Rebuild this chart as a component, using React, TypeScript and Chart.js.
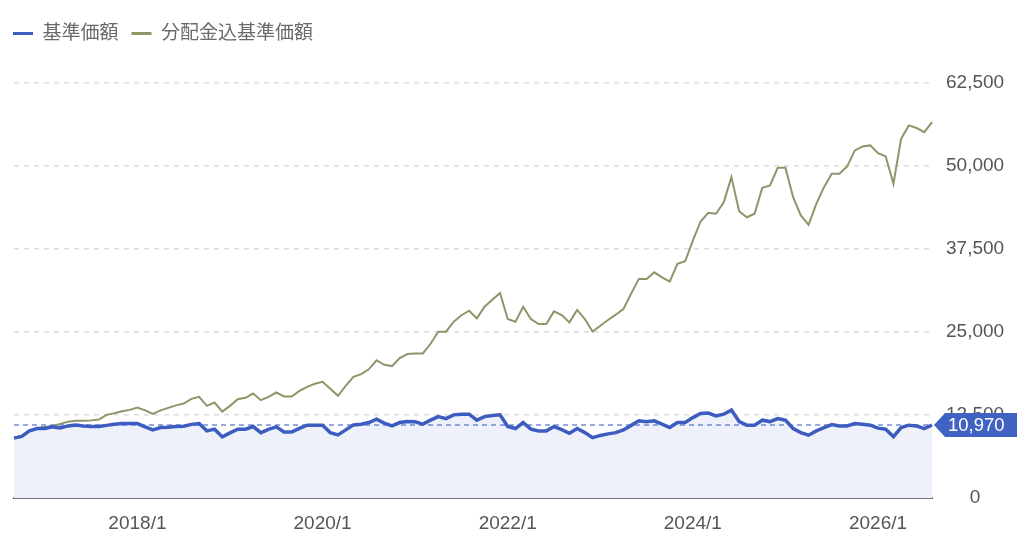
import { useEffect, useRef } from 'react';
import { Chart, registerables } from 'chart.js';

Chart.register(...registerables);

// monthly categories 2016/9 .. 2026/8
const START_YEAR = 2016;
const START_MONTH = 9;
const MONTH_COUNT = 120;
const categories: string[] = [];
for (let i = 0; i < MONTH_COUNT; i++) {
  const m = START_MONTH - 1 + i;
  categories.push(`${START_YEAR + Math.floor(m / 12)}/${(m % 12) + 1}`);
}

const xTickLabels = ['2018/1', '2020/1', '2022/1', '2024/1', '2026/1'];
const yTicks = [0, 12500, 25000, 37500, 50000, 62500];
const yMax = 66000;

// 基準価額
const navValues = [
  9000, 9260, 10090, 10440, 10440, 10690, 10540, 10840, 10990, 10840,
  10740, 10740, 10920, 11100, 11190, 11190, 11190, 10690, 10240, 10590,
  10650, 10740, 10800, 11070, 11190, 10090, 10350, 9190, 9790, 10350,
  10350, 10740, 9830, 10320, 10690, 9940, 9940, 10470, 10950, 10950,
  10950, 9830, 9490, 10240, 10990, 11100, 11340, 11850, 11250, 10840,
  11340, 11490, 11450, 11100, 11700, 12240, 11940, 12500, 12600, 12600,
  11700, 12240, 12390, 12500, 10740, 10440, 11340, 10350, 10090, 10090,
  10740, 10290, 9740, 10440, 9830, 9080, 9410, 9640, 9830, 10240,
  10920, 11600, 11450, 11600, 11100, 10590, 11340, 11340, 12090, 12700,
  12760, 12350, 12600, 13210, 11490, 10950, 10950, 11700, 11490, 11940,
  11700, 10440, 9830, 9440, 10090, 10590, 11040, 10840, 10840, 11190,
  11100, 10950, 10500, 10350, 9230, 10590, 10950, 10840, 10440, 10970,
];

// 分配金込基準価額
const totalReturnValues = [
  9040, 9340, 10090, 10540, 10690, 10840, 11140, 11450, 11600, 11600,
  11670, 11790, 12500, 12730, 13030, 13250, 13600, 13180, 12650, 13180,
  13550, 13930, 14200, 14910, 15210, 13850, 14350, 13000, 13850, 14860,
  15060, 15710, 14710, 15210, 15860, 15260, 15260, 16110, 16720, 17170,
  17470, 16420, 15360, 16870, 18220, 18630, 19350, 20710, 20030, 19830,
  21040, 21640, 21730, 21730, 23190, 25000, 25000, 26510, 27480, 28160,
  27000, 28760, 29820, 30830, 26910, 26510, 28760, 26910, 26160, 26160,
  28060, 27510, 26400, 28270, 26910, 25040, 25900, 26760, 27560, 28420,
  30720, 32940, 32940, 33930, 33180, 32530, 35200, 35590, 38700, 41570,
  42880, 42730, 44470, 48240, 43120, 42210, 42730, 46640, 46990, 49650,
  49650, 45230, 42470, 41070, 44230, 46730, 48750, 48750, 49850, 52260,
  52860, 53010, 51850, 51350, 47240, 54020, 56020, 55620, 55010, 56520,
];

const latestNav = 10970;

const FONT = '"Liberation Sans", Arial, "Noto Sans CJK JP", sans-serif';

const legendHeight = {
  id: 'legendHeight',
  beforeInit(chart: any) {
    const legend = chart.legend;
    if (!legend) return;
    const fit = legend.fit;
    legend.fit = function () {
      fit.call(this);
      this.height = 48;
    };
  },
};

const latestTag = {
  id: 'latestTag',
  beforeDatasetsDraw(chart: any) {
    const { ctx, chartArea, scales } = chart;
    const y = scales.y.getPixelForValue(latestNav);
    ctx.save();
    ctx.strokeStyle = 'rgba(70, 100, 200, 0.75)';
    ctx.lineWidth = 1.5;
    ctx.setLineDash([5, 4]);
    ctx.beginPath();
    ctx.moveTo(chartArea.left, y);
    ctx.lineTo(chartArea.right, y);
    ctx.stroke();
    ctx.restore();
  },
  afterDraw(chart: any) {
    const { ctx, chartArea, scales } = chart;
    const y = scales.y.getPixelForValue(latestNav);
    const x0 = chartArea.right + 2;
    const h = 24;
    ctx.save();
    ctx.fillStyle = '#4062c2';
    ctx.beginPath();
    ctx.moveTo(x0, y);
    ctx.lineTo(x0 + 11, y - h / 2);
    ctx.lineTo(x0 + 83, y - h / 2);
    ctx.lineTo(x0 + 83, y + h / 2);
    ctx.lineTo(x0 + 11, y + h / 2);
    ctx.closePath();
    ctx.fill();
    ctx.fillStyle = '#ffffff';
    ctx.font = `18.5px ${FONT}`;
    ctx.textBaseline = 'middle';
    ctx.textAlign = 'left';
    ctx.fillText(latestNav.toLocaleString('en-US'), x0 + 14, y + 1);
    ctx.restore();
  },
};

export default function App() {
  const canvasRef = useRef<HTMLCanvasElement>(null);
  const chartRef = useRef<Chart | null>(null);

  useEffect(() => {
    document.body.style.margin = '0';
    if (!canvasRef.current) return;
    if (chartRef.current) chartRef.current.destroy();

    chartRef.current = new Chart(canvasRef.current, {
      type: 'line',
      data: {
        labels: categories,
        datasets: [
          {
            label: '基準価額',
            data: navValues,
            borderColor: '#3c5dbf',
            backgroundColor: '#eef1fa',
            borderWidth: 3.5,
            fill: 'origin',
            pointRadius: 0,
            tension: 0,
            yAxisID: 'y',
            order: 0,
          },
          {
            label: '分配金込基準価額',
            data: totalReturnValues,
            borderColor: '#8c9669',
            backgroundColor: '#8c9669',
            borderWidth: 2,
            fill: false,
            pointRadius: 0,
            tension: 0,
            yAxisID: 'y',
            order: 1,
          },
        ],
      },
      options: {
        responsive: true,
        maintainAspectRatio: false,
        animation: false,
        events: [],
        layout: { padding: { top: 11, left: 0, right: 0, bottom: 0 } },
        plugins: {
          filler: { drawTime: 'beforeDatasetsDraw' },
          tooltip: { enabled: false },
          legend: {
            position: 'top',
            align: 'start',
            labels: {
              boxWidth: 20,
              boxHeight: 3,
              padding: 13,
              color: '#6a6a6a',
              font: { family: FONT, size: 19 },
              generateLabels: (chart: any) =>
                Chart.defaults.plugins.legend.labels
                  .generateLabels(chart)
                  .map((l: any) => ({ ...l, fillStyle: l.strokeStyle, lineWidth: 0 })),
            },
          },
        },
        scales: {
          x: {
            type: 'category',
            offset: false,
            grid: { display: false },
            border: { display: true, color: '#777', width: 2 },
            ticks: {
              autoSkip: false,
              maxRotation: 0,
              padding: 6,
              color: '#555',
              font: { family: FONT, size: 19 },
              callback: (_v: any, i: number) =>
                xTickLabels.includes(categories[i]) ? categories[i] : '',
            },
            afterFit: (s: any) => {
              s.height = 43;
            },
          },
          yl: {
            type: 'linear',
            position: 'left',
            display: true,
            grid: { display: false },
            border: { display: false },
            ticks: { display: false },
            afterFit: (s: any) => {
              s.width = 14;
            },
          },
          y: {
            type: 'linear',
            position: 'right',
            min: 0,
            max: yMax,
            border: { display: false, dash: [5, 5] },
            grid: {
              drawTicks: false,
              lineWidth: 1.5,
              color: (c: any) => (c.tick && c.tick.value === 0 ? 'rgba(0,0,0,0)' : '#dcdcdc'),
            },
            ticks: {
              padding: 14,
              crossAlign: 'center',
              color: '#555',
              font: { family: FONT, size: 19 },
              callback: (v: any) => Number(v).toLocaleString('en-US'),
            },
            afterBuildTicks: (s: any) => {
              s.ticks = yTicks.map((value) => ({ value }));
            },
            afterFit: (s: any) => {
              s.width = 92;
            },
          },
        },
      },
      plugins: [legendHeight, latestTag],
    } as any);

    return () => {
      if (chartRef.current) {
        chartRef.current.destroy();
        chartRef.current = null;
      }
    };
  }, []);

  return (
    <div style={{ width: 1024, height: 541, position: 'relative' }}>
      <canvas ref={canvasRef} />
    </div>
  );
}
